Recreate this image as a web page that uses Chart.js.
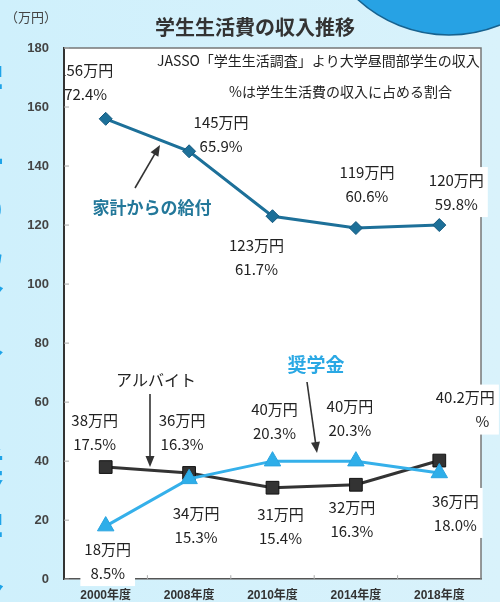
<!DOCTYPE html>
<html>
<head>
<meta charset="utf-8">
<script src="https://cdn.jsdelivr.net/npm/chart.js@4/dist/chart.umd.min.js"></script>
<style>
html,body{margin:0;padding:0;background:#d6f1fb;}
canvas{display:block;}
</style>
</head>
<body>
<canvas id="c" width="500" height="602"></canvas>
<script>
// ---- data ----
const categories = ['2000年度', '2008年度', '2010年度', '2014年度', '2018年度'];
const kakei = [156, 145, 123, 119, 120];
const arubaito = [38, 36, 31, 32, 40.2];
const shogaku = [18, 34, 40, 40, 36];
const yTicks = [0, 20, 40, 60, 80, 100, 120, 140, 160, 180];

const kakeiLabels = [['156万円', '72.4%'], ['145万円', '65.9%'], ['123万円', '61.7%'], ['119万円', '60.6%'], ['120万円', '59.8%']];
const arubaitoLabels = [['38万円', '17.5%'], ['36万円', '16.3%'], ['31万円', '15.4%'], ['32万円', '16.3%'], ['40.2万円', '%']];
const shogakuLabels = [['18万円', '8.5%'], ['34万円', '15.3%'], ['40万円', '20.3%'], ['40万円', '20.3%'], ['36万円', '18.0%']];

// ---- label layout (offsets from the point, in px) ----
const kakeiOff = [{dx:-20,dy:-49,clip:true},{dx:32,dy:-29},{dx:-16,dy:29},{dx:11,dy:-56},{dx:17,dy:-45,bg:true}];
const arubaitoOff = [{dx:-11,dy:-47},{dx:-7,dy:-53},{dx:8,dy:27},{dx:-4,dy:23},{dx:26,dy:-63,dx2:43,bg:true}];
const shogakuOff = [{dx:2,dy:23,bg:true},{dx:7,dy:34},{dx:2,dy:-52},{dx:-6,dy:-55},{dx:16,dy:28,bg:true}];

const JP = '"Noto Sans CJK JP", "Noto Sans", sans-serif';
const NUM = '"Liberation Sans", Arial, "Noto Sans CJK JP", sans-serif';

function arrow(ctx, x1, y1, x2, y2) {
  const a = Math.atan2(y2 - y1, x2 - x1);
  const hl = 11, hw = 4.5;
  ctx.save();
  ctx.strokeStyle = '#333'; ctx.fillStyle = '#333'; ctx.lineWidth = 1.6;
  ctx.beginPath(); ctx.moveTo(x1, y1);
  ctx.lineTo(x2 - Math.cos(a) * hl * 0.8, y2 - Math.sin(a) * hl * 0.8); ctx.stroke();
  ctx.beginPath();
  ctx.moveTo(x2, y2);
  ctx.lineTo(x2 - Math.cos(a) * hl - Math.sin(a) * hw, y2 - Math.sin(a) * hl + Math.cos(a) * hw);
  ctx.lineTo(x2 - Math.cos(a) * hl + Math.sin(a) * hw, y2 - Math.sin(a) * hl - Math.cos(a) * hw);
  ctx.closePath(); ctx.fill();
  ctx.restore();
}

const decor = {
  id: 'decor',
  beforeDraw(chart) {
    const ctx = chart.ctx, a = chart.chartArea;
    ctx.save();
    // background
    const g = ctx.createLinearGradient(0, 0, 500, 0);
    g.addColorStop(0, '#cff0fc'); g.addColorStop(1, '#d9f2fb');
    ctx.fillStyle = g; ctx.fillRect(0, 0, chart.width, chart.height);
    // top-right blue circle
    ctx.beginPath(); ctx.arc(449, -100, 135, 0, Math.PI * 2);
    ctx.fillStyle = '#27a2e4'; ctx.fill();
    ctx.lineWidth = 1.5; ctx.strokeStyle = '#17628f'; ctx.stroke();
    // left cropped big text
    ctx.fillStyle = '#1ea3e8';
    ctx.font = 'bold 44px ' + JP;
    ctx.textAlign = 'center'; ctx.textBaseline = 'middle';
    const side = '学生の収入と奨学金';
    for (let i = 0; i < side.length; i++) ctx.fillText(side[i], -18, 80 + i * 64);
    // plot area white
    ctx.fillStyle = '#ffffff';
    ctx.fillRect(a.left, a.top, a.right - a.left, a.bottom - a.top);
    // titles
    ctx.fillStyle = '#333';
    ctx.font = 'bold 20px ' + JP;
    ctx.fillText('学生生活費の収入推移', 255, 27);
    ctx.font = '13px ' + JP; ctx.textAlign = 'left';
    ctx.fillStyle = '#444';
    ctx.fillText('（万円）', 5, 17);
    ctx.restore();
  },
  beforeDatasetsDraw(chart) {
    const ctx = chart.ctx, a = chart.chartArea;
    const y = chart.scales.y, x = chart.scales.x;
    ctx.save();
    // top & right border
    ctx.strokeStyle = '#777'; ctx.lineWidth = 1.5;
    ctx.beginPath();
    ctx.moveTo(a.left, a.top); ctx.lineTo(a.right, a.top); ctx.lineTo(a.right, a.bottom);
    ctx.stroke();
    // inner y ticks
    ctx.strokeStyle = '#aaa'; ctx.lineWidth = 1;
    yTicks.forEach(v => {
      const py = y.getPixelForValue(v);
      ctx.beginPath(); ctx.moveTo(a.left, py); ctx.lineTo(a.left + 5, py); ctx.stroke();
    });
    // x category boundary ticks
    for (let i = 1; i < categories.length; i++) {
      const px = (x.getPixelForValue(i - 1) + x.getPixelForValue(i)) / 2;
      ctx.beginPath(); ctx.moveTo(px, a.bottom); ctx.lineTo(px, a.bottom - 4); ctx.stroke();
    }
    // notes
    ctx.fillStyle = '#222'; ctx.textBaseline = 'middle'; ctx.textAlign = 'left';
    ctx.font = '14px ' + JP;
    ctx.fillText('JASSO「学生生活調査」より大学昼間部学生の収入', 157, 61);
    ctx.fillText('%は学生生活費の収入に占める割合', 229, 92);
    ctx.restore();
  },
  afterDatasetsDraw(chart) {
    const ctx = chart.ctx, a = chart.chartArea;
    const sets = [[0, kakeiLabels, kakeiOff], [1, arubaitoLabels, arubaitoOff], [2, shogakuLabels, shogakuOff]];
    ctx.save();
    ctx.textBaseline = 'middle'; ctx.textAlign = 'center';
    ctx.font = '15px ' + JP;
    const gap = 24;
    sets.forEach(([di, labels, offs]) => {
      const meta = chart.getDatasetMeta(di);
      meta.data.forEach((pt, i) => {
        const o = offs[i];
        const x1 = pt.x + o.dx, y1 = pt.y + o.dy;
        const x2 = pt.x + (o.dx2 !== undefined ? o.dx2 : o.dx), y2 = y1 + gap;
        const [l1, l2] = labels[i];
        ctx.save();
        if (o.bg) {
          const w1 = ctx.measureText(l1).width, w2 = ctx.measureText(l2).width;
          const left = Math.min(x1 - w1 / 2, x2 - w2 / 2) - 4;
          const right = Math.max(x1 + w1 / 2, x2 + w2 / 2) + 4;
          ctx.fillStyle = '#fff';
          ctx.fillRect(left, y1 - 13, right - left, gap + 26);
        }
        if (o.clip) {
          ctx.beginPath(); ctx.rect(a.left + 1, a.top, a.right - a.left, a.bottom - a.top); ctx.clip();
        }
        ctx.fillStyle = '#222';
        ctx.fillText(l1, x1, y1);
        ctx.fillText(l2, x2, y2);
        ctx.restore();
      });
    });
    // series annotations
    ctx.font = 'bold 17px ' + JP; ctx.fillStyle = '#23789a';
    ctx.fillText('家計からの給付', 152, 208);
    arrow(ctx, 135, 188, 160, 145);
    ctx.font = '16px ' + JP; ctx.fillStyle = '#222';
    ctx.fillText('アルバイト', 156, 380);
    arrow(ctx, 150, 394, 150, 467);
    ctx.font = 'bold 19px ' + JP; ctx.fillStyle = '#2aa8e4';
    ctx.fillText('奨学金', 316, 365);
    arrow(ctx, 307, 382, 317, 453);
    ctx.restore();
  }
};

new Chart(document.getElementById('c'), {
  type: 'line',
  data: {
    labels: categories,
    datasets: [
      { label: '家計からの給付', data: kakei, borderColor: '#1d7099', backgroundColor: '#1d7099',
        borderWidth: 3, pointStyle: 'rectRot', pointRadius: 6.5, pointBorderWidth: 1, pointBorderColor: '#155a80', order: 2, tension: 0 },
      { label: 'アルバイト', data: arubaito, borderColor: '#333333', backgroundColor: '#333333',
        borderWidth: 3, pointStyle: 'rect', pointRadius: 9, pointBorderWidth: 1, pointBorderColor: '#111', order: 1, tension: 0 },
      { label: '奨学金', data: shogaku, borderColor: '#35b0ea', backgroundColor: '#2eaee9',
        borderWidth: 3, pointStyle: 'triangle', pointRadius: 9.5, pointBorderWidth: 1, pointBorderColor: '#2aa4e0', order: 0, tension: 0 }
    ]
  },
  options: {
    responsive: false,
    animation: false,
    layout: { padding: { left: 0, right: 19, top: 48, bottom: 0 } },
    plugins: { legend: { display: false }, tooltip: { enabled: false } },
    scales: {
      x: {
        type: 'category', offset: true,
        grid: { display: false, drawTicks: false },
        border: { display: true, color: '#555', width: 1.5 },
        ticks: { padding: 9, color: '#333', font: { family: NUM, size: 12, weight: 'bold' } },
        afterFit(s) { s.height = 22; }
      },
      y: {
        min: 0, max: 180,
        afterBuildTicks(s) { s.ticks = yTicks.map(v => ({ value: v })); },
        grid: { display: false, drawTicks: false },
        border: { display: true, color: '#333', width: 2 },
        ticks: { padding: 15, color: '#444', font: { family: NUM, size: 13, weight: 'bold' } },
        afterFit(s) { s.width = 64; }
      }
    }
  },
  plugins: [decor]
});
</script>
</body>
</html>
